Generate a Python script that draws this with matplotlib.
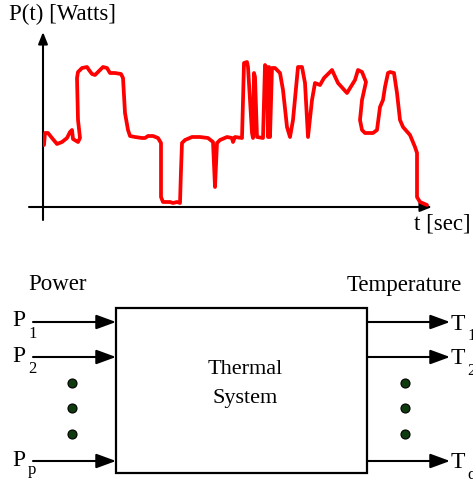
import matplotlib
matplotlib.use("Agg")
import matplotlib.pyplot as plt
from matplotlib.patches import Rectangle

# ---- data: power trace (t in arbitrary sec units, P in arbitrary watt units) ----
curve_x_px = [44, 45, 48, 52, 57, 62, 67, 70, 72, 73, 78, 80, 78, 77, 78, 82, 87, 89, 92, 95, 98,
              103, 107, 110, 115, 121, 123, 125, 128, 130, 135, 142, 145, 148, 153, 158, 161,
              161, 163, 167, 170, 173, 177, 180, 181, 182, 185, 192, 200, 208, 213, 215, 216,
              217, 220, 227, 232, 233, 235, 242, 244, 247, 248, 250, 252, 253, 254, 255, 257,
              263, 265, 267, 268, 269, 270, 272, 275, 280, 283, 287, 290, 293, 298, 302, 305,
              308, 312, 315, 320, 324, 332, 338, 347, 355, 358, 362, 366, 362, 360, 362, 365,
              373, 377, 380, 383, 385, 388, 390, 394, 397, 400, 403, 410, 415, 417, 417, 420, 427]
curve_y_px = [145, 133, 133, 138, 144, 142, 138, 132, 130, 139, 142, 138, 120, 78, 72, 68, 67, 70,
              74, 75, 72, 67, 68, 73, 73, 74, 78, 113, 130, 136, 137, 138, 138, 136, 136, 138,
              143, 197, 202, 202, 202, 203, 202, 203, 170, 143, 140, 137, 137, 138, 142, 187,
              165, 143, 140, 137, 138, 142, 137, 138, 63, 62, 67, 100, 133, 138, 73, 77, 137,
              138, 65, 68, 137, 67, 137, 68, 68, 73, 90, 127, 137, 120, 67, 67, 83, 137, 100,
              83, 85, 78, 70, 83, 93, 80, 70, 72, 82, 100, 120, 130, 133, 133, 130, 107, 100,
              87, 73, 72, 73, 93, 120, 127, 135, 147, 153, 197, 202, 205]
origin_x, origin_y = 43, 207
time_sec = [x - origin_x for x in curve_x_px]
power_w = [origin_y - y for y in curve_y_px]

inputs = ["1", "2", "p"]
outputs = ["1", "2", "q"]

W, H = 473, 479
fig = plt.figure(figsize=(W / 100, H / 100), dpi=100)
plt.rcParams['font.family'] = ['Liberation Serif', 'DejaVu Serif']

# overlay axes in pixel coordinates
ov = fig.add_axes([0, 0, 1, 1])
ov.set_xlim(0, W)
ov.set_ylim(H, 0)
ov.axis('off')

# chart axes
tip_x, tip_y = 432, 32
cax = fig.add_axes([origin_x / W, (H - origin_y) / H, (tip_x - origin_x) / W, (origin_y - tip_y) / H])
cax.set_xlim(0, tip_x - origin_x)
cax.set_ylim(0, origin_y - tip_y)
cax.axis('off')
cax.plot(time_sec, power_w, color='red', lw=2.7, solid_joinstyle='round', solid_capstyle='round')

ax_arrow = dict(arrowstyle='-|>,head_length=0.5,head_width=0.2', mutation_scale=14,
                color='black', lw=1.5, shrinkA=0, shrinkB=0)
ov.annotate('', xy=(tip_x, origin_y), xytext=(29, origin_y), arrowprops=ax_arrow)
ov.annotate('', xy=(origin_x, tip_y), xytext=(origin_x, 220), arrowprops=ax_arrow)
ov.text(9, 14, 'P(t) [Watts]', fontsize=16.5, va='center', ha='left')
ov.text(414, 224, 't [sec]', fontsize=16.5, va='center', ha='left')

# block diagram
ov.add_patch(Rectangle((116, 308), 367 - 116, 473 - 308, fill=False, lw=1.6, ec='black'))
ov.text(245, 370, 'Thermal', fontsize=16, ha='center', va='center')
ov.text(245, 399, 'System', fontsize=16, ha='center', va='center')
ov.text(28, 285, 'Power', fontsize=16.5, ha='left', va='center')
ov.text(347, 285, 'Temperature', fontsize=16.5, ha='left', va='center')

arr = dict(arrowstyle='-|>,head_length=0.6,head_width=0.22', mutation_scale=20,
           color='black', lw=1.5, shrinkA=0, shrinkB=0)
rows_y = [322, 357, 461]
sub_dy = [12, 12, 9]
for lab, yy, dy in zip(inputs, rows_y, sub_dy):
    ov.annotate('', xy=(116, yy), xytext=(33, yy), arrowprops=arr)
    ov.text(12, yy - 1, 'P', fontsize=17, ha='left', va='center')
    ov.text(28, yy + dy, lab, fontsize=12, ha='left', va='center')
for lab, yy in zip(outputs, rows_y):
    ov.annotate('', xy=(450, yy), xytext=(367, yy), arrowprops=arr)
    ov.text(451, yy + 2, 'T', fontsize=17, ha='left', va='center')
    ov.text(467, yy + 14, lab, fontsize=12, ha='left', va='center')

dot_y = [383, 408, 434]
ov.plot([72] * 3, dot_y, 'o', ms=6.5, mfc='#103a10', mec='black', mew=0.8)
ov.plot([405] * 3, dot_y, 'o', ms=6.5, mfc='#103a10', mec='black', mew=0.8)

fig.savefig('out.png', dpi=100)
